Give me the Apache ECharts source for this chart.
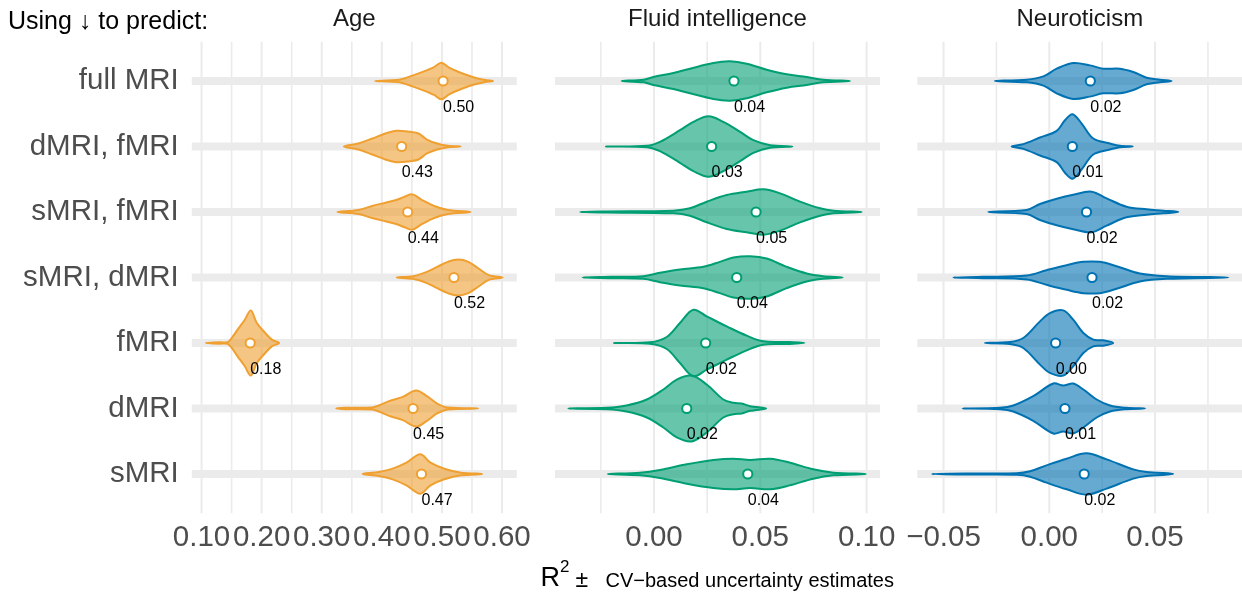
<!DOCTYPE html>
<html><head><meta charset="utf-8">
<script src="https://cdn.jsdelivr.net/npm/echarts@6/dist/echarts.min.js"></script>
<style>html,body{margin:0;padding:0;background:#fff}#c{width:1242px;height:599px}</style>
</head><body><div id="c"></div>
<script>
// ---------- data ----------
const categories = ['full MRI', 'dMRI, fMRI', 'sMRI, fMRI', 'sMRI, dMRI', 'fMRI', 'dMRI', 'sMRI'];
const targets = ['Age', 'Fluid intelligence', 'Neuroticism'];

// mean R² (white dot + label) per category
const ageMeans   = [0.502, 0.433, 0.443, 0.520, 0.181, 0.452, 0.466];
const fluidMeans = [0.0376, 0.0271, 0.048, 0.0389, 0.0243, 0.0154, 0.0441];
const neuroMeans = [0.0194, 0.0109, 0.0176, 0.0202, 0.003, 0.0074, 0.0165];

// violin outlines: R² positions and relative density (0-100) at those positions
const ageX = [
  [0.389,0.429,0.452,0.469,0.487,0.499,0.512,0.532,0.555,0.572,0.585],
  [0.337,0.361,0.384,0.406,0.424,0.447,0.461,0.475,0.492,0.510,0.531],
  [0.326,0.361,0.384,0.406,0.424,0.438,0.451,0.467,0.487,0.510,0.548],
  [0.425,0.452,0.475,0.492,0.510,0.527,0.544,0.561,0.578,0.601],
  [0.107,0.130,0.143,0.149,0.160,0.172,0.182,0.192,0.206,0.217,0.229],
  [0.324,0.340,0.384,0.395,0.412,0.435,0.457,0.475,0.492,0.510,0.560],
  [0.368,0.395,0.418,0.441,0.464,0.481,0.504,0.532,0.567]
];
const ageW = [
  [0,4,17,28,42,55,40,24,10,3,0],
  [0,9,24,39,47,44,39,21,9,2,0],
  [0,6,18,28,36,46,53,36,18,6,0],
  [0,4,17,32,47,54,47,27,7,0],
  [0,2,2,12,40,70,98,60,30,10,0],
  [0,2,3,9,22,35,54,37,15,3,0],
  [0,6,16,34,59,34,16,4,0]
];
const fluidX = [
  [-0.0152,-0.0050,-0.0003,0.0091,0.0169,0.0279,0.0357,0.0436,0.0530,0.0624,0.0718,0.0796,0.0922],
  [-0.0226,-0.0034,0.0028,0.0122,0.0185,0.0256,0.0326,0.0405,0.0467,0.0546,0.0651],
  [-0.0348,-0.0223,0.0091,0.0169,0.0248,0.0342,0.0436,0.0514,0.0593,0.0687,0.0781,0.0844,0.0977],
  [-0.0336,-0.0200,-0.0050,0.0028,0.0122,0.0232,0.0310,0.0373,0.0452,0.0530,0.0624,0.0718,0.0796,0.0887],
  [-0.0188,-0.0019,0.0060,0.0122,0.0185,0.0248,0.0342,0.0436,0.0514,0.0624,0.0707],
  [-0.0403,-0.0223,-0.0129,-0.0034,0.0044,0.0107,0.0177,0.0248,0.0326,0.0373,0.0412,0.0452,0.0527],
  [-0.0218,-0.0066,0.0028,0.0154,0.0279,0.0373,0.0452,0.0546,0.0640,0.0749,0.0844,0.0997]
];
const fluidW = [
  [0,4,12,24,37,54,59,52,34,20,12,4,0],
  [0,2,14,49,74,91,74,44,19,4,0],
  [0,1.5,4,11,31,51,61,68,56,31,11,4,0],
  [0,2,4,14,24,32,47,60,64,57,32,12,4,0],
  [0,2,18,60,100,80,50,22,5,3,0],
  [0,2,9,27,57,87,99,72,27,17,15,7,0],
  [0,4,12,29,42,46,42,46,34,14,4,0]
];
const neuroX = [
  [-0.0257,-0.0107,-0.0028,0.0035,0.0113,0.0192,0.0255,0.0334,0.0397,0.0460,0.0523,0.0578],
  [-0.0178,-0.0123,-0.0044,0.0035,0.0074,0.0110,0.0153,0.0208,0.0287,0.0334,0.0394],
  [-0.0288,-0.0107,-0.0044,0.0035,0.0113,0.0200,0.0271,0.0365,0.0460,0.0539,0.0610],
  [-0.0454,-0.0312,-0.0107,-0.0013,0.0082,0.0161,0.0239,0.0318,0.0428,0.0555,0.0846],
  [-0.0304,-0.0186,-0.0123,-0.0044,0.0003,0.0066,0.0113,0.0161,0.0208,0.0255,0.0302],
  [-0.0410,-0.0233,-0.0170,-0.0076,0.0019,0.0066,0.0113,0.0161,0.0224,0.0287,0.0365,0.0452],
  [-0.0556,-0.0400,-0.0154,-0.0091,-0.0013,0.0082,0.0176,0.0271,0.0397,0.0460,0.0586]
];
const neuroW = [
  [0,4,14,37,54,47,37,37,27,10,4,0],
  [0,7,27,47,79,97,69,24,9,2,0],
  [0,6,24,40,52,61,41,16,8,4,0],
  [0,2,6,22,37,47,47,34,12,4,0],
  [0,3,15,65,90,98,70,30,10,8,0],
  [0,2,9,37,75,69,75,57,27,9,2,0],
  [0,1.5,2,8,26,46,62,44,14,6,0]
];

// axis ticks
const ageTicks   = [0.10, 0.20, 0.30, 0.40, 0.50, 0.60];
const ageMinor   = [0.15, 0.25, 0.35, 0.45, 0.55];
const fluidTicks = [0.00, 0.05, 0.10];
const fluidMinor = [-0.025, 0.025, 0.075];
const neuroTicks = [-0.05, 0.00, 0.05];
const neuroMinor = [-0.025, 0.025, 0.075];

// ---------- layout / style ----------
const FONT = "'Liberation Sans', Arial, Helvetica, sans-serif";
const DENS_SCALE = 0.00508;   // density unit -> category-row units
const GRID_TOP = 41.7, GRID_H = 471.6, PANEL_W = 325;
const panels = [
  {title: targets[0], color: '#EFA031', left: 191.8, min: 0.0838, max: 0.6246,
   ticks: ageTicks, minor: ageMinor, X: ageX, W: ageW, means: ageMeans},
  {title: targets[1], color: '#009E73', left: 555, min: -0.04657, max: 0.1063,
   ticks: fluidTicks, minor: fluidMinor, X: fluidX, W: fluidW, means: fluidMeans},
  {title: targets[2], color: '#0072B2', left: 917.3, min: -0.0624, max: 0.0911,
   ticks: neuroTicks, minor: neuroMinor, X: neuroX, W: neuroW, means: neuroMeans}
];
const rows = categories.map((c, i) => i);

function fmtTick(v) {
  const s = Math.abs(v).toFixed(2);
  return (v < -1e-9 ? '\u2212' : '') + s;
}

const option = {
  animation: false,
  backgroundColor: '#ffffff',
  grid: [], xAxis: [], yAxis: [], series: [],
  graphic: []
};

panels.forEach((p, k) => {
  option.grid.push({left: p.left, top: GRID_TOP, width: PANEL_W, height: GRID_H, containLabel: false});
  option.xAxis.push({
    gridIndex: k, type: 'value', min: p.min, max: p.max,
    axisLine: {show: false}, axisTick: {show: false}, splitLine: {show: false},
    axisLabel: {
      customValues: p.ticks, formatter: fmtTick, hideOverlap: false,
      showMinLabel: true, showMaxLabel: true,
      fontSize: 29.5, color: '#4d4d4d', fontFamily: FONT, margin: 10
    }
  });
  option.yAxis.push({
    gridIndex: k, type: 'value', min: -0.6, max: 6.6, inverse: true,
    axisLine: {show: false}, axisTick: {show: false}, splitLine: {show: false},
    axisLabel: k === 0 ? {
      customValues: rows, formatter: v => categories[Math.round(v)],
      fontSize: 29.5, color: '#4d4d4d', fontFamily: FONT, margin: 13
    } : {show: false}
  });

  // background grid: vertical major/minor lines and thick horizontal row bands
  const gridData = [].concat(
    p.ticks.map(v => [v, 0, 1]),
    p.minor.map(v => [v, 0, 0]),
    rows.map(i => [0, i, 2])
  );
  option.series.push({
    type: 'custom', xAxisIndex: k, yAxisIndex: k, z: 1, silent: true,
    data: gridData,
    encode: {x: 0, y: 1},
    renderItem: function (params, api) {
      const cs = params.coordSys;
      const kind = api.value(2);
      if (kind === 2) {
        const y = api.coord([p.min, api.value(1)])[1];
        return {type: 'line', shape: {x1: cs.x, y1: y, x2: cs.x + cs.width, y2: y},
                style: {stroke: '#ebebeb', lineWidth: 8}};
      }
      const x = api.coord([api.value(0), 0])[0];
      return {type: 'line', shape: {x1: x, y1: cs.y, x2: x, y2: cs.y + cs.height},
              style: {stroke: '#ebebeb', lineWidth: kind === 1 ? 2 : 1.6}};
    }
  });

  // violins
  option.series.push({
    type: 'custom', xAxisIndex: k, yAxisIndex: k, z: 5, silent: true,
    data: p.means.map((m, i) => [m, i]),
    encode: {x: 0, y: 1},
    renderItem: function (params, api) {
      const i = params.dataIndex;
      const mean = api.value(0), row = api.value(1);
      const xs = p.X[i], ws = p.W[i];
      const pts = [];
      for (let j = 0; j < xs.length; j++) pts.push(api.coord([xs[j], row - ws[j] * DENS_SCALE]));
      for (let j = xs.length - 2; j >= 1; j--) pts.push(api.coord([xs[j], row + ws[j] * DENS_SCALE]));
      const c = api.coord([mean, row]);
      const lab = api.coord([mean, row + 0.405]);
      return {
        type: 'group',
        children: [
          {type: 'polygon', shape: {points: pts, smooth: 0.35},
           style: {fill: p.color, opacity: 1, fillOpacity: 0.6, stroke: p.color, lineWidth: 2}},
          {type: 'circle', shape: {cx: c[0], cy: c[1], r: 4.6},
           style: {fill: '#ffffff', stroke: p.color, lineWidth: 2}},
          {type: 'text', x: lab[0], y: lab[1],
           style: {text: mean.toFixed(2), fontSize: 16, fill: '#000000', fontFamily: FONT,
                   align: 'left', verticalAlign: 'middle'}}
        ]
      };
    }
  });

  option.graphic.push({
    type: 'text', x: p.left + PANEL_W / 2, y: 19,
    style: {text: p.title, fontSize: 24, fill: '#1a1a1a', fontFamily: FONT,
            align: 'center', verticalAlign: 'middle'}
  });
});

option.graphic.push(
  {type: 'text', x: 8, y: 22,
   style: {text: 'Using \u2193 to predict:', fontSize: 25, fill: '#000000', fontFamily: FONT,
           align: 'left', verticalAlign: 'middle'}},
  {type: 'text', x: 540.5, y: 579,
   style: {text: 'R', fontSize: 27, fill: '#000000', fontFamily: FONT, align: 'left', verticalAlign: 'middle'}},
  {type: 'text', x: 560, y: 567.5,
   style: {text: '2', fontSize: 17, fill: '#000000', fontFamily: FONT, align: 'left', verticalAlign: 'middle'}},
  {type: 'text', x: 575.5, y: 580.5,
   style: {text: '\u00b1', fontSize: 23, fill: '#000000', fontFamily: FONT, align: 'left', verticalAlign: 'middle'}},
  {type: 'text', x: 605.5, y: 581,
   style: {text: 'CV\u2212based uncertainty estimates', fontSize: 20, fill: '#000000', fontFamily: FONT,
           align: 'left', verticalAlign: 'middle'}}
);

const chart = echarts.init(document.getElementById('c'), null, {renderer: 'canvas'});
chart.setOption(option);
</script></body></html>
